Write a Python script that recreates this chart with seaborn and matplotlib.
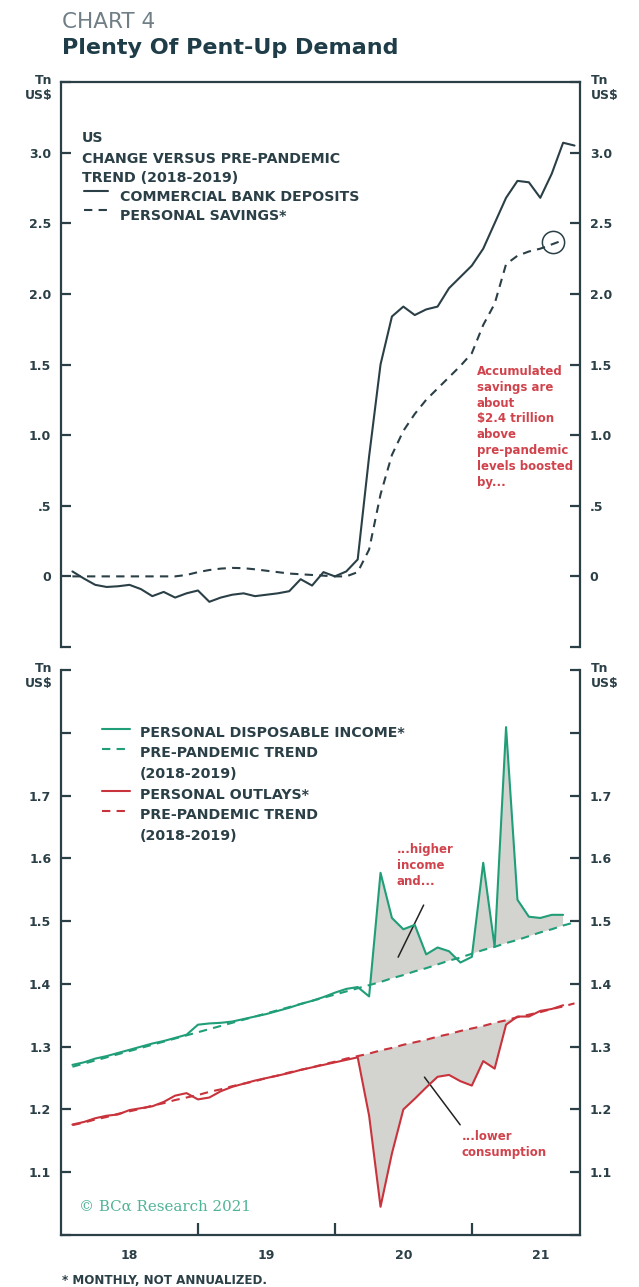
import numpy as np
import pandas as pd
import matplotlib
matplotlib.use("Agg")
import matplotlib.pyplot as plt
import seaborn as sns

# ---------------- data (Tn US$) ----------------
months = pd.date_range("2018-01-01", periods=45, freq="MS")

deposits = [0.035, -0.015, -0.06, -0.075, -0.07, -0.06, -0.09, -0.14, -0.11, -0.15,
            -0.12, -0.10, -0.18, -0.15, -0.13, -0.12, -0.14, -0.13, -0.12, -0.105,
            -0.02, -0.065, 0.03, 0.0, 0.035, 0.12, 0.85, 1.50, 1.84, 1.91,
            1.85, 1.89, 1.91, 2.04, 2.12, 2.20, 2.32, 2.50, 2.68, 2.80,
            2.79, 2.68, 2.85, 3.07, 3.05]

savings = [0.0, 0.0, 0.0, 0.0, 0.0, 0.0, 0.0, 0.0, 0.0, 0.0,
           0.01, 0.03, 0.045, 0.055, 0.06, 0.058, 0.05, 0.04, 0.03, 0.02,
           0.015, 0.01, 0.005, 0.0, 0.0, 0.03, 0.19, 0.58, 0.86, 1.03,
           1.15, 1.25, 1.33, 1.41, 1.49, 1.58, 1.78, 1.93, 2.21, 2.27,
           2.30, 2.32, 2.35, 2.38]

income = [1.271, 1.275, 1.281, 1.285, 1.290, 1.295, 1.300, 1.305, 1.309, 1.314,
          1.319, 1.335, 1.337, 1.338, 1.340, 1.344, 1.348, 1.352, 1.357, 1.362,
          1.368, 1.373, 1.379, 1.386, 1.392, 1.395, 1.380, 1.577, 1.505, 1.487,
          1.494, 1.447, 1.458, 1.452, 1.434, 1.443, 1.593, 1.459, 1.809, 1.534,
          1.507, 1.505, 1.510, 1.510]

income_trend = [1.268, 1.273, 1.278, 1.283, 1.288, 1.293, 1.298, 1.303, 1.308, 1.313,
                1.318, 1.323, 1.328, 1.333, 1.338, 1.343, 1.348, 1.353, 1.358, 1.363,
                1.368, 1.373, 1.378, 1.383, 1.388, 1.393, 1.398, 1.403, 1.409, 1.414,
                1.420, 1.425, 1.431, 1.437, 1.442, 1.448, 1.454, 1.459, 1.465, 1.470,
                1.476, 1.482, 1.487, 1.493, 1.498]

outlays = [1.176, 1.180, 1.186, 1.190, 1.192, 1.199, 1.202, 1.205, 1.212, 1.222,
           1.226, 1.216, 1.219, 1.229, 1.236, 1.241, 1.246, 1.250, 1.254, 1.258,
           1.263, 1.267, 1.271, 1.275, 1.279, 1.283, 1.190, 1.045, 1.130, 1.200,
           1.217, 1.235, 1.252, 1.255, 1.245, 1.238, 1.277, 1.265, 1.335, 1.348,
           1.348, 1.357, 1.360, 1.366]

outlays_trend = [1.175, 1.179, 1.184, 1.188, 1.193, 1.197, 1.201, 1.206, 1.210, 1.215,
                 1.219, 1.223, 1.228, 1.232, 1.237, 1.241, 1.245, 1.250, 1.254, 1.259,
                 1.263, 1.267, 1.272, 1.276, 1.281, 1.285, 1.289, 1.294, 1.298, 1.303,
                 1.307, 1.311, 1.316, 1.320, 1.325, 1.329, 1.333, 1.338, 1.342, 1.347,
                 1.351, 1.355, 1.360, 1.364, 1.369]

year_labels = ["18", "19", "20", "21"]
top_ticks = [-0.5, 0, 0.5, 1.0, 1.5, 2.0, 2.5, 3.0, 3.5]
top_ticklabels = ["", "0", ".5", "1.0", "1.5", "2.0", "2.5", "3.0", ""]
bot_ticks = [1.0, 1.1, 1.2, 1.3, 1.4, 1.5, 1.6, 1.7, 1.8, 1.9]
bot_ticklabels = ["", "1.1", "1.2", "1.3", "1.4", "1.5", "1.6", "1.7", "", ""]

# ---------------- style ----------------
sns.set_theme(style="white")
plt.rcParams["font.family"] = ["DejaVu Sans"]
plt.rcParams["font.weight"] = "bold"

DARK = "#2b3f47"
GREEN = "#1f9e78"
RED = "#c8333c"
TXTRED = "#d1434c"
FILL = "#d3d3cf"

W, H = 639, 1287
fig = plt.figure(figsize=(W / 100, H / 100), dpi=100)
fig.patch.set_facecolor("white")


def xpos(d):
    # monthly values plotted at end of month
    return d.year + d.month / 12.0


x = np.array([xpos(d) for d in months])

ax1 = fig.add_axes([61 / W, 1 - 647 / H, 519 / W, 565 / H])
ax2 = fig.add_axes([61 / W, 1 - 1235 / H, 519 / W, 565 / H])

XL = (2018.0, 2021.79)

# ---------- top panel ----------
top = pd.DataFrame({"x": x, "deposits": deposits})
sav = pd.DataFrame({"x": x[:len(savings)], "savings": savings})
sns.lineplot(data=top, x="x", y="deposits", ax=ax1, color=DARK, lw=1.5)
sns.lineplot(data=sav, x="x", y="savings", ax=ax1, color=DARK, lw=1.5)
ax1.lines[-1].set_dashes([4, 3])

ax1.set_xlim(*XL)
ax1.set_ylim(-0.5, 3.5)
ax1.set_yticks(top_ticks)
ax1.set_yticklabels(top_ticklabels)

# ---------- bottom panel ----------
bot = pd.DataFrame({"x": x[:len(income)], "income": income, "outlays": outlays})
trd = pd.DataFrame({"x": x, "income_trend": income_trend, "outlays_trend": outlays_trend})

inc_a = np.array(income)
inc_t = np.array(income_trend[:len(income)])
out_a = np.array(outlays)
out_t = np.array(outlays_trend[:len(outlays)])
xb = x[:len(income)]
pand = xb >= 2020.25 - 0.001
ax2.fill_between(xb, inc_a, inc_t, where=pand & (inc_a >= inc_t), interpolate=True,
                 color=FILL, lw=0, zorder=1)
pand2 = xb >= 2020.166 - 0.001
ax2.fill_between(xb, out_a, out_t, where=pand2 & (out_a <= out_t), interpolate=True,
                 color=FILL, lw=0, zorder=1)

sns.lineplot(data=trd, x="x", y="income_trend", ax=ax2, color=GREEN, lw=1.5, zorder=3)
ax2.lines[-1].set_dashes([4, 3])
sns.lineplot(data=trd, x="x", y="outlays_trend", ax=ax2, color=RED, lw=1.5, zorder=3)
ax2.lines[-1].set_dashes([4, 3])
sns.lineplot(data=bot, x="x", y="income", ax=ax2, color=GREEN, lw=1.5, zorder=4)
sns.lineplot(data=bot, x="x", y="outlays", ax=ax2, color=RED, lw=1.5, zorder=4)

ax2.set_xlim(*XL)
ax2.set_ylim(1.0, 1.9)
ax2.set_yticks(bot_ticks)
ax2.set_yticklabels(bot_ticklabels)
ax2.set_xticks([2019, 2020, 2021])
ax2.set_xticklabels([])
ax2.set_xticks([2018.5, 2019.5, 2020.5, 2021.5], minor=True)
ax2.set_xticklabels(year_labels, minor=True)

for ax in (ax1, ax2):
    ax.set_xlabel("")
    ax.set_ylabel("")
    ax.set_facecolor("white")
    for s in ax.spines.values():
        s.set_color(DARK)
        s.set_linewidth(1.6)
    ax.tick_params(axis="y", which="major", left=True, right=True,
                   labelleft=True, labelright=True, direction="in",
                   length=7, width=1.6, colors=DARK, labelsize=9, pad=7)
    ax.annotate("Tn\nUS$", xy=(0, 1), xycoords="axes fraction", xytext=(-6, 6),
                textcoords="offset points", ha="right", va="top", fontsize=9,
                color=DARK, linespacing=1.25)
    ax.annotate("Tn\nUS$", xy=(1, 1), xycoords="axes fraction", xytext=(8, 6),
                textcoords="offset points", ha="left", va="top", fontsize=9,
                color=DARK, linespacing=1.25)

ax1.spines["bottom"].set_visible(False)
ax1.tick_params(axis="x", which="both", bottom=False, labelbottom=False)
ax2.spines["top"].set_visible(False)
ax2.tick_params(axis="x", which="major", bottom=True, direction="in", length=9,
                width=1.6, colors=DARK)
ax2.tick_params(axis="x", which="minor", bottom=True, length=0, pad=10,
                labelsize=9, labelcolor=DARK)


def afx(px):
    return (px - 61) / 519


def afy_top(py):
    return (647 - py) / 565


def afy_bot(py):
    return (1235 - py) / 565


# ---------- top legend ----------
LFS = 10.2
for txt, py in [("US", 138), ("CHANGE VERSUS PRE-PANDEMIC", 159), ("TREND (2018-2019)", 178)]:
    ax1.text(afx(82), afy_top(py), txt, transform=ax1.transAxes, fontsize=LFS,
             color=DARK, va="center", ha="left")
ax1.text(afx(120), afy_top(197), "COMMERCIAL BANK DEPOSITS", transform=ax1.transAxes,
         fontsize=LFS, color=DARK, va="center", ha="left")
ax1.text(afx(120), afy_top(216), "PERSONAL SAVINGS*", transform=ax1.transAxes,
         fontsize=LFS, color=DARK, va="center", ha="left")
ax1.plot([afx(84), afx(108)], [afy_top(191)] * 2, transform=ax1.transAxes, color=DARK, lw=1.5)
l, = ax1.plot([afx(84), afx(108)], [afy_top(210)] * 2, transform=ax1.transAxes, color=DARK, lw=1.5)
l.set_dashes([4, 3])

ax1.text(2021.036, 1.496, "Accumulated\nsavings are\nabout\n$2.4 trillion\nabove\npre-pandemic\nlevels boosted\nby...",
         fontsize=8.5, color=TXTRED, ha="left", va="top", linespacing=1.28)
ax1.plot([2021.59], [2.37], marker="o", ms=16, mfc="none", mec=DARK, mew=1.1)

# ---------- bottom legend ----------
leg = [("PERSONAL DISPOSABLE INCOME*", 733), ("PRE-PANDEMIC TREND", 753), ("(2018-2019)", 774),
       ("PERSONAL OUTLAYS*", 795), ("PRE-PANDEMIC TREND", 815), ("(2018-2019)", 836)]
for txt, py in leg:
    ax2.text(afx(140), afy_bot(py), txt, transform=ax2.transAxes, fontsize=LFS,
             color=DARK, va="center", ha="left")
for py, col, dashed in [(729, GREEN, False), (749, GREEN, True), (791, RED, False), (811, RED, True)]:
    l, = ax2.plot([afx(102), afx(130)], [afy_bot(py)] * 2, transform=ax2.transAxes, color=col, lw=1.5)
    if dashed:
        l.set_dashes([4, 3])

ax2.text(2020.453, 1.624, "...higher\nincome\nand...", fontsize=8.5, color=TXTRED,
         ha="left", va="top", linespacing=1.28)
ax2.annotate("", xy=(2020.453, 1.4386), xytext=(2020.657, 1.5295),
             arrowprops=dict(arrowstyle="-", color="#222222", lw=1.1))
ax2.text(2020.927, 1.1675, "...lower\nconsumption", fontsize=8.5, color=TXTRED,
         ha="left", va="top", linespacing=1.28)
ax2.annotate("", xy=(2020.927, 1.172), xytext=(2020.642, 1.255),
             arrowprops=dict(arrowstyle="-", color="#222222", lw=1.1))

ax2.text(afx(79), afy_bot(1207), "© BCα Research 2021", transform=ax2.transAxes,
         fontsize=10.8, color="#4fb396", fontweight="normal", family=["DejaVu Serif"],
         va="center", ha="left")

# ---------- titles / footnote ----------
fig.text(62 / W, 1 - 28 / H, "CHART 4", fontsize=15.5, color="#6f7f85",
         fontweight="normal", va="baseline", ha="left")
fig.text(62 / W, 1 - 54 / H, "Plenty Of Pent-Up Demand", fontsize=16, color="#1e3d48",
         fontweight="bold", va="baseline", ha="left")
fig.text(62 / W, 1 - 1280 / H, "* MONTHLY, NOT ANNUALIZED.", fontsize=8.6, color=DARK,
         va="center", ha="left")

fig.savefig("out.png", dpi=100, facecolor="white")
